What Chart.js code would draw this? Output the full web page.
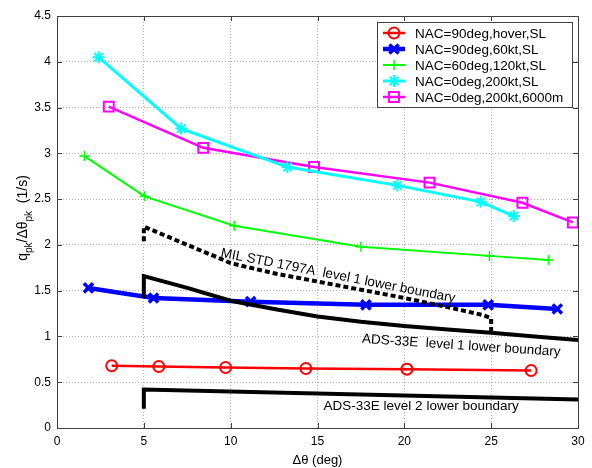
<!DOCTYPE html>
<html>
<head>
<meta charset="utf-8">
<script src="https://cdn.jsdelivr.net/npm/chart.js@4.4.0/dist/chart.umd.min.js"></script>
<style>
  html, body { margin: 0; padding: 0; background: #ffffff; }
  #wrap { width: 592px; height: 468px; }
</style>
</head>
<body>
<div id="wrap"><canvas id="chartCanvas"></canvas></div>
<script>
const FONT = "'Liberation Sans', Arial, Helvetica, sans-serif";

/* =========================
   Data
========================= */
const seriesLabels = [
  "NAC=90deg,hover,SL",
  "NAC=90deg,60kt,SL",
  "NAC=60deg,120kt,SL",
  "NAC=0deg,200kt,SL",
  "NAC=0deg,200kt,6000m"
];

const hoverX = [3.15, 5.86, 9.71, 14.33, 20.15, 27.3];
const hoverY = [0.68, 0.672, 0.661, 0.65, 0.643, 0.628];

const kt60X = [1.81, 5.56, 11.15, 17.79, 24.83, 28.81];
const kt60Y = [1.53, 1.42, 1.38, 1.345, 1.345, 1.30];

const kt120X = [1.58, 5.04, 10.2, 17.5, 24.9, 28.3];
const kt120Y = [2.97, 2.53, 2.21, 1.98, 1.88, 1.835];

const kt200X = [2.39, 7.15, 13.27, 19.6, 24.4, 26.3];
const kt200Y = [4.05, 3.27, 2.85, 2.65, 2.47, 2.315];

const alt6000X = [2.98, 8.42, 14.8, 21.45, 26.8, 29.7];
const alt6000Y = [3.51, 3.06, 2.85, 2.68, 2.46, 2.245];

// boundary curves
const milX = [5, 5, 7, 9.4, 10, 12.5, 15, 17.5, 20, 22.5, 24.5, 25, 25];
const milY = [2.04, 2.2, 2.04, 1.85, 1.80, 1.69, 1.60, 1.51, 1.42, 1.32, 1.235, 1.2, 1.05];

const adsL1X = [5, 5, 7.5, 10, 12.5, 15, 17.5, 20, 22.5, 25, 27.5, 30];
const adsL1Y = [1.42, 1.66, 1.53, 1.39, 1.30, 1.217, 1.16, 1.115, 1.075, 1.04, 1.0, 0.96];

const adsL2X = [5, 5, 30];
const adsL2Y = [0.21, 0.42, 0.31];

// annotation labels and where they start (data units)
const noteTexts = [
  "MIL STD 1797A  level 1 lower boundary",
  "ADS-33E  level 1 lower boundary",
  "ADS-33E level 2 lower boundary"
];
const noteX = [9.4, 17.55, 15.35];
const noteY = [1.87, 0.93, 0.2];

const xTickValues = [0, 5, 10, 15, 20, 25, 30];
const yTickValues = [0, 0.5, 1, 1.5, 2, 2.5, 3, 3.5, 4, 4.5];

/* =========================
   Helpers
========================= */
function toPoints(xs, ys) {
  return xs.map((x, i) => ({ x: x, y: ys[i] }));
}

const seriesStyles = [
  { color: "#ff0000", style: "circle",   radius: 5.5, width: 2.5, pointWidth: 2 },
  { color: "#0000ff", style: "crossRot", radius: 6.5, width: 4.5, pointWidth: 3.5 },
  { color: "#00ff00", style: "cross",    radius: 5,   width: 2,   pointWidth: 1.5 },
  { color: "#00ffff", style: "star",     radius: 6,   width: 3,   pointWidth: 2 },
  { color: "#ff00ff", style: "rect",     radius: 7,   width: 2.5, pointWidth: 2 }
];

const seriesData = [
  toPoints(hoverX, hoverY),
  toPoints(kt60X, kt60Y),
  toPoints(kt120X, kt120Y),
  toPoints(kt200X, kt200Y),
  toPoints(alt6000X, alt6000Y)
];

function boundary(xs, ys, dash) {
  return {
    label: "",
    data: toPoints(xs, ys),
    showLine: true,
    borderColor: "#000000",
    borderWidth: 4,
    borderDash: dash,
    pointRadius: 0,
    pointHoverRadius: 0,
    fill: false
  };
}

const datasets = [
  boundary(milX, milY, [5, 3]),
  boundary(adsL1X, adsL1Y, []),
  boundary(adsL2X, adsL2Y, [])
].concat(seriesLabels.map((lab, i) => {
  const s = seriesStyles[i];
  return {
    label: lab,
    data: seriesData[i],
    showLine: true,
    borderColor: s.color,
    borderWidth: s.width,
    pointStyle: s.style,
    pointRadius: s.radius,
    pointHoverRadius: s.radius,
    pointBorderColor: s.color,
    pointBackgroundColor: "rgba(0,0,0,0)",
    pointBorderWidth: s.pointWidth,
    fill: false
  };
}));

/* =========================
   Plugins
========================= */
const backgroundPlugin = {
  id: "bg",
  beforeDraw: (chart) => {
    const ctx = chart.ctx;
    ctx.save();
    ctx.fillStyle = "#ffffff";
    ctx.fillRect(0, 0, chart.width, chart.height);
    ctx.restore();
  }
};

const notesPlugin = {
  id: "notes",
  afterDatasetsDraw: (chart) => {
    const { ctx, scales: { x, y } } = chart;
    const angles = [11, 3.8, 0];
    ctx.save();
    ctx.font = "13.5px " + FONT;
    ctx.fillStyle = "#000000";
    ctx.textAlign = "left";
    ctx.textBaseline = "alphabetic";
    noteTexts.forEach((t, i) => {
      ctx.save();
      ctx.translate(x.getPixelForValue(noteX[i]), y.getPixelForValue(noteY[i]));
      ctx.rotate(angles[i] * Math.PI / 180);
      ctx.fillText(t, 0, 0);
      ctx.restore();
    });
    ctx.restore();
  }
};

const framePlugin = {
  id: "frame",
  afterDraw: (chart) => {
    const { ctx, chartArea: a, scales: { x, y } } = chart;
    ctx.save();
    ctx.strokeStyle = "#404040";
    ctx.lineWidth = 1;
    ctx.setLineDash([]);
    ctx.strokeRect(Math.round(a.left) + 0.5, Math.round(a.top) + 0.5,
      Math.round(a.right - a.left), Math.round(a.bottom - a.top));
    ctx.beginPath();
    xTickValues.forEach(v => {
      const px = Math.round(x.getPixelForValue(v)) + 0.5;
      ctx.moveTo(px, a.bottom); ctx.lineTo(px, a.bottom - 5);
      ctx.moveTo(px, a.top); ctx.lineTo(px, a.top + 5);
    });
    yTickValues.forEach(v => {
      const py = Math.round(y.getPixelForValue(v)) + 0.5;
      ctx.moveTo(a.left, py); ctx.lineTo(a.left + 5, py);
      ctx.moveTo(a.right, py); ctx.lineTo(a.right - 5, py);
    });
    ctx.stroke();
    ctx.restore();
  }
};

const legendPlugin = {
  id: "boxLegend",
  afterDraw: (chart) => {
    const ctx = chart.ctx;
    const a = chart.chartArea;
    const left = a.right - 201, top = a.top + 6, w = 195, h = 85;
    ctx.save();
    ctx.fillStyle = "#ffffff";
    ctx.fillRect(left, top, w, h);
    ctx.strokeStyle = "#404040";
    ctx.lineWidth = 1;
    ctx.strokeRect(left + 0.5, top + 0.5, w, h);
    ctx.font = "13.5px " + FONT;
    ctx.textBaseline = "middle";
    ctx.textAlign = "left";
    seriesLabels.forEach((lab, i) => {
      const s = seriesStyles[i];
      const cy = top + 11 + i * 16;
      ctx.strokeStyle = s.color;
      ctx.lineWidth = s.width;
      ctx.beginPath();
      ctx.moveTo(left + 6, cy);
      ctx.lineTo(left + 28, cy);
      ctx.stroke();
      ctx.lineWidth = s.pointWidth;
      ctx.fillStyle = "rgba(0,0,0,0)";
      Chart.helpers.drawPoint(ctx, {
        pointStyle: s.style, radius: s.radius, borderWidth: s.pointWidth, rotation: 0
      }, left + 17, cy);
      ctx.fillStyle = "#000000";
      ctx.fillText(lab, left + 38, cy + 1);
    });
    ctx.restore();
  }
};

const yTitlePlugin = {
  id: "yTitle",
  afterDraw: (chart) => {
    const { ctx, chartArea: a } = chart;
    const parts = [["q", false], ["pk", true], ["/\u0394\u03b8", false], ["pk", true], ["  (1/s)", false]];
    const big = "14px " + FONT, small = "10px " + FONT;
    ctx.save();
    let total = 0;
    parts.forEach(([t, sub]) => { ctx.font = sub ? small : big; total += ctx.measureText(t).width; });
    ctx.translate(23, (a.top + a.bottom) / 2 - 4);
    ctx.rotate(-Math.PI / 2);
    ctx.textBaseline = "middle";
    ctx.textAlign = "left";
    ctx.fillStyle = "#000000";
    let cx = -total / 2;
    parts.forEach(([t, sub]) => {
      ctx.font = sub ? small : big;
      ctx.fillText(t, cx, sub ? 6 : 0);
      cx += ctx.measureText(t).width;
    });
    ctx.restore();
  }
};

/* =========================
   Chart
========================= */
const canvas = document.getElementById("chartCanvas");

new Chart(canvas.getContext("2d"), {
  type: "scatter",
  data: { datasets: datasets },
  options: {
    responsive: true,
    maintainAspectRatio: false,
    animation: false,
    events: [],
    layout: { padding: { left: 0, right: 14, top: 16, bottom: 0 } },
    plugins: {
      legend: { display: false },
      tooltip: { enabled: false }
    },
    scales: {
      x: {
        type: "linear",
        min: 0,
        max: 30,
        afterBuildTicks: (s) => { s.ticks = xTickValues.map(v => ({ value: v })); },
        afterFit: (s) => { s.height = 40; },
        ticks: {
          color: "#000000", padding: 6, maxRotation: 0,
          font: { family: FONT, size: 12 },
          callback: (v) => String(v)
        },
        grid: { color: "#b0b0b0", lineWidth: 1, drawTicks: false },
        border: { display: false, dash: [1, 2] },
        title: {
          display: true,
          text: "\u0394\u03b8 (deg)",
          color: "#000000",
          font: { family: FONT, size: 13 },
          padding: { top: 0, bottom: 0 }
        }
      },
      y: {
        type: "linear",
        min: 0,
        max: 4.5,
        afterBuildTicks: (s) => { s.ticks = yTickValues.map(v => ({ value: v })); },
        afterFit: (s) => { s.width = 57; },
        ticks: {
          color: "#000000", padding: 6,
          font: { family: FONT, size: 12 },
          callback: (v) => String(v)
        },
        grid: { color: "#b0b0b0", lineWidth: 1, drawTicks: false },
        border: { display: false, dash: [1, 2] }
      }
    }
  },
  plugins: [backgroundPlugin, notesPlugin, framePlugin, legendPlugin, yTitlePlugin]
});
</script>
</body>
</html>
